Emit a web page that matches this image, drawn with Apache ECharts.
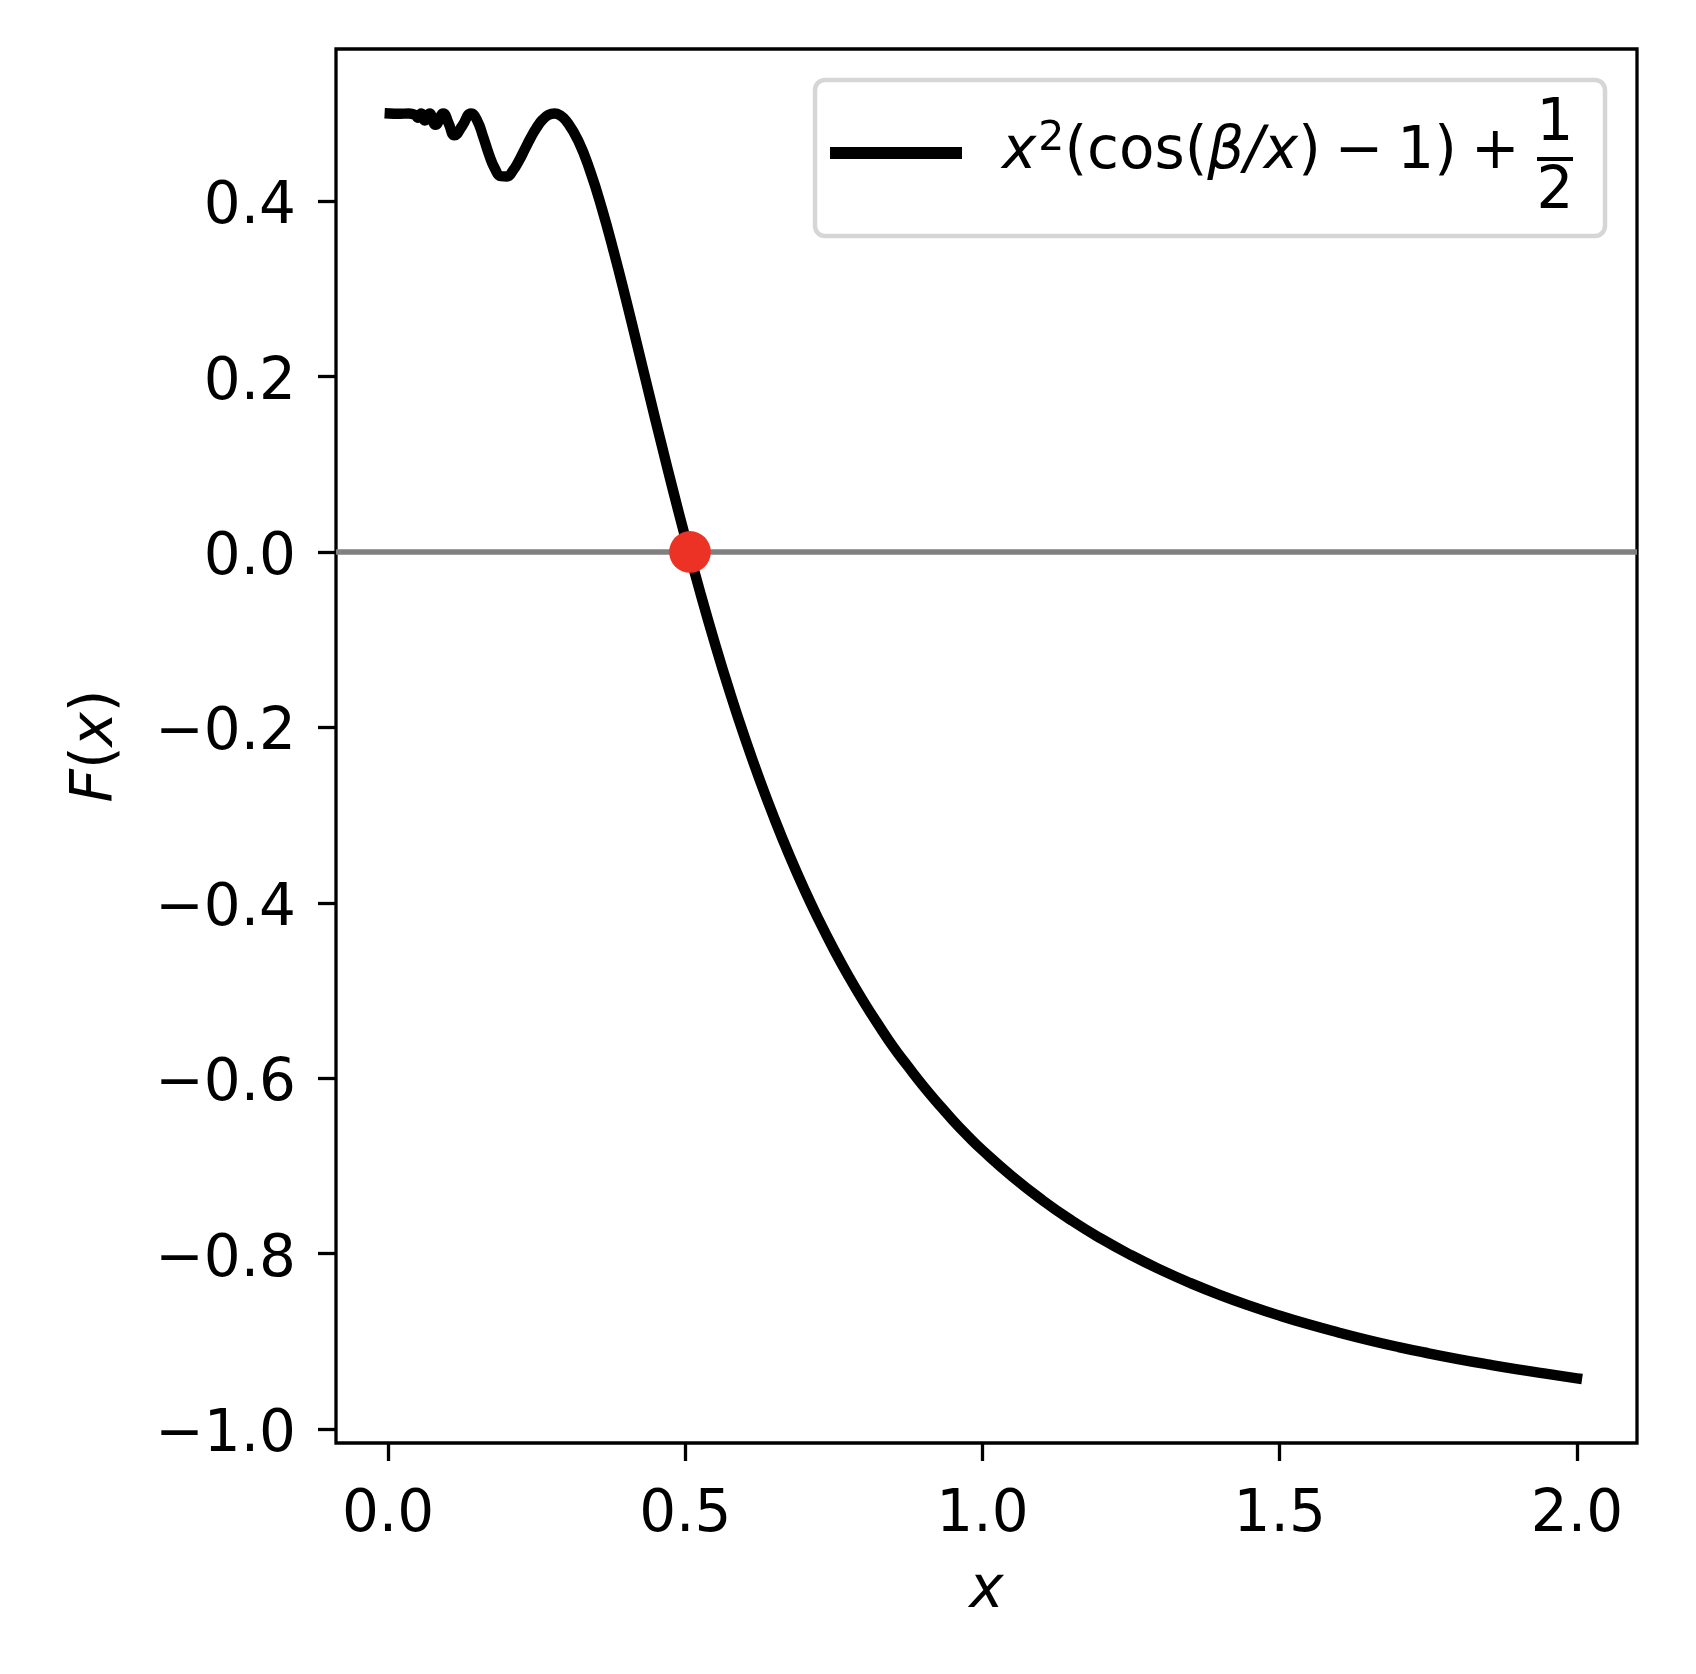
<!DOCTYPE html>
<html>
<head>
<meta charset="utf-8">
<script src="https://cdn.jsdelivr.net/npm/echarts@6/dist/echarts.min.js"></script>
<style>
html,body{margin:0;padding:0;background:#fff;}
#c{width:1696px;height:1674px;}
</style>
</head>
<body>
<div id="c"></div>
<script>
// Curve samples: F(x) = x^2 (cos(beta/x) - 1) + 1/2
const xValues = [0.003, 0.02, 0.035, 0.045, 0.0508, 0.0558, 0.062, 0.0698, 0.0798, 0.093, 0.102, 0.1117, 0.125, 0.1396,
  0.15, 0.16, 0.17, 0.18, 0.19, 0.20, 0.21, 0.22, 0.23, 0.24, 0.25, 0.26, 0.27, 0.28, 0.29, 0.30,
  0.32, 0.34, 0.36, 0.38, 0.40, 0.42, 0.44, 0.46, 0.48, 0.50, 0.525, 0.55, 0.575, 0.60, 0.625, 0.65, 0.675,
  0.70, 0.725, 0.75, 0.775, 0.80, 0.825, 0.85, 0.875, 0.90, 0.925, 0.95, 0.975, 1.00,
  1.05, 1.10, 1.15, 1.20, 1.25, 1.30, 1.35, 1.40, 1.45, 1.50, 1.55, 1.60, 1.65, 1.70, 1.75, 1.80, 1.85, 1.90, 1.95, 2.00];
const fValues = [0.500, 0.4997, 0.4999, 0.4986, 0.495, 0.500, 0.492, 0.500, 0.487, 0.500, 0.4887, 0.475, 0.486, 0.500,
  0.4919, 0.4736, 0.453, 0.4368, 0.4285, 0.4282, 0.4348, 0.4458, 0.459, 0.4723, 0.4839, 0.4929, 0.4983, 0.500, 0.4977, 0.4915,
  0.4688, 0.4343, 0.391, 0.3417, 0.2886, 0.2335, 0.1778, 0.1227, 0.0688, 0.0166, -0.0458, -0.1047, -0.1599, -0.2115, -0.2595, -0.3041, -0.3457,
  -0.3843, -0.4200, -0.4533, -0.4841, -0.5127, -0.5393, -0.5645, -0.5869, -0.6086, -0.6287, -0.6479, -0.6657, -0.6822,
  -0.7121, -0.7387, -0.7623, -0.7832, -0.8019, -0.8186, -0.8337, -0.8473, -0.8596, -0.8708, -0.8810, -0.8902, -0.8988, -0.9066, -0.9137, -0.9203, -0.9264, -0.9321, -0.9373, -0.9422];
const rootPoint = [[0.508, 0.0]];
const xTicks = [0.0, 0.5, 1.0, 1.5, 2.0];
const yTicks = [-1.0, -0.8, -0.6, -0.4, -0.2, 0.0, 0.2, 0.4];
const xRange = [-0.0875, 2.101];
const yRange = [-1.016, 0.5735];

const curveData = xValues.map((x, i) => [x, fValues[i]]);
const FONT = 'DejaVu Sans';
const fmt = v => (Math.round(v * 10) / 10).toFixed(1).replace('-', '\u2212');

const chart = echarts.init(document.getElementById('c'), null, {renderer: 'canvas'});
chart.setOption({
  animation: false,
  backgroundColor: '#ffffff',
  grid: {left: 336, top: 49, right: 59, bottom: 231, show: true, borderColor: '#000', borderWidth: 3.3, backgroundColor: 'transparent'},
  xAxis: {
    type: 'value', min: xRange[0], max: xRange[1],
    axisLine: {show: false, onZero: false},
    splitLine: {show: false},
    axisTick: {show: true, customValues: xTicks, length: 18, lineStyle: {color: '#000', width: 3.3}},
    axisLabel: {customValues: xTicks, formatter: fmt, fontFamily: FONT, fontSize: 58, color: '#000', margin: 44},
    name: 'x', nameLocation: 'middle', nameGap: 120,
    nameTextStyle: {fontFamily: FONT, fontSize: 58, fontStyle: 'italic', color: '#000'}
  },
  yAxis: {
    type: 'value', min: yRange[0], max: yRange[1],
    axisLine: {show: false, onZero: false},
    splitLine: {show: false},
    axisTick: {show: true, customValues: yTicks, length: 18, lineStyle: {color: '#000', width: 3.3}},
    axisLabel: {
      customValues: yTicks, formatter: v => '{n|' + fmt(v) + '}', color: '#000', margin: 40,
      rich: {n: {fontFamily: FONT, fontSize: 58, color: '#000', padding: [14, 0, 0, 0]}}
    },
    name: '{i|F}{r|(}{i|x}{r|)}', nameLocation: 'middle', nameGap: 210, nameRotate: 90,
    nameTextStyle: {
      fontFamily: FONT, fontSize: 58, color: '#000',
      rich: {
        i: {fontFamily: FONT, fontSize: 58, fontStyle: 'italic', color: '#000'},
        r: {fontFamily: FONT, fontSize: 58, color: '#000'}
      }
    }
  },
  legend: {
    data: ['curve'], left: 830, top: 118, padding: 0, orient: 'vertical',
    itemWidth: 132, itemHeight: 12, icon: 'rect', z: 10, selectedMode: false,
    formatter: () => '{sp| }{i|x}{sup|2}{r|(cos(}{i|β/x}{r|)}{op|\u2212}{r|1)}{op|+}',
    textStyle: {
      fontFamily: FONT, fontSize: 58, color: '#000', lineHeight: 70,
      rich: {
        sp: {width: 35, fontSize: 58, lineHeight: 70},
        i: {fontFamily: FONT, fontSize: 58, fontStyle: 'italic', color: '#000', lineHeight: 70},
        r: {fontFamily: FONT, fontSize: 58, color: '#000', lineHeight: 70},
        op: {fontFamily: FONT, fontSize: 58, color: '#000', lineHeight: 70, padding: [0, 14, 0, 14]},
        sup: {fontFamily: FONT, fontSize: 41, color: '#000', lineHeight: 70, padding: [0, 0, 28, 2]}
      }
    }
  },
  graphic: [
    {type: 'rect', z: 9, shape: {x: 815, y: 80, width: 790, height: 156, r: 10},
     style: {fill: '#fff', stroke: '#d6d6d6', lineWidth: 4.5}},
    {type: 'text', z: 11, style: {text: '1', x: 1555, y: 125, align: 'center', verticalAlign: 'middle', fontFamily: FONT, fontSize: 58, fill: '#000'}},
    {type: 'rect', z: 11, shape: {x: 1537, y: 157, width: 36, height: 4}, style: {fill: '#000'}},
    {type: 'text', z: 11, style: {text: '2', x: 1555, y: 193, align: 'center', verticalAlign: 'middle', fontFamily: FONT, fontSize: 58, fill: '#000'}}
  ],
  series: [
    {
      name: 'zero', type: 'line', data: [], z: 1, silent: true,
      markLine: {silent: true, symbol: ['none', 'none'], label: {show: false},
        lineStyle: {color: '#808080', width: 5.5, type: 'solid'}, data: [{yAxis: 0}]}
    },
    {
      name: 'curve', type: 'line', data: curveData, z: 3, smooth: true,
      showSymbol: false, symbol: 'none', itemStyle: {color: '#000'},
      lineStyle: {color: '#000', width: 10.4, cap: 'square', join: 'round'}
    },
    {
      name: 'root', type: 'scatter', data: rootPoint, z: 5, symbolSize: 41.7,
      itemStyle: {color: '#ec3224', opacity: 1}
    }
  ]
});
</script>
</body>
</html>
